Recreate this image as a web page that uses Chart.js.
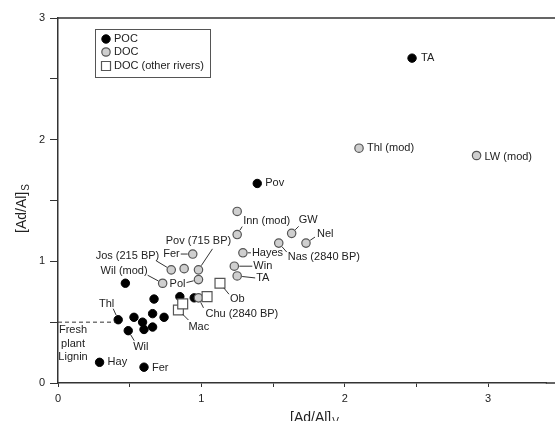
<!DOCTYPE html>
<html lang="en">
<head>
<meta charset="utf-8">
<title>Ad/Al</title>
<script src="https://cdn.jsdelivr.net/npm/chart.js"></script>
<style>
    html, body { margin: 0; padding: 0; background: #fff; }
</style>
</head>
<body>
<canvas id="myChart" width="555" height="421"></canvas>

<script>
    // POC (black dots)
    const pocX = [0.47, 0.42, 0.53, 0.59, 0.60, 0.49, 0.66, 0.67, 0.66, 0.74, 0.85, 0.95, 0.29, 0.60, 1.39, 2.47];
    const pocY = [0.82, 0.52, 0.54, 0.50, 0.44, 0.43, 0.57, 0.69, 0.46, 0.54, 0.71, 0.70, 0.17, 0.13, 1.64, 2.67];
    // DOC (grey circles)
    const docX = [2.10, 2.92, 0.79, 0.94, 0.88, 0.98, 0.98, 0.73, 0.98, 1.25, 1.25, 1.29, 1.23, 1.25, 1.63, 1.73, 1.54];
    const docY = [1.93, 1.87, 0.93, 1.06, 0.94, 0.93, 0.85, 0.82, 0.70, 1.41, 1.22, 1.07, 0.96, 0.88, 1.23, 1.15, 1.15];
    // DOC other rivers (squares)
    const rivX = [1.13, 1.04, 0.84, 0.87];
    const rivY = [0.82, 0.71, 0.60, 0.65];

    const xTicks = [0, 0.5, 1, 1.5, 2, 2.5, 3];
    const yTicks = [0, 0.5, 1, 1.5, 2, 2.5, 3];
    const seriesNames = ['POC', 'DOC', 'DOC (other rivers)'];
    const freshLevel = 0.5;

    // point labels: [dataset, index, text, dx, dy, align, leader dx, leader dy]
    const notes = [
        [0, 15, 'TA', 9, 0, 'left'],
        [0, 14, 'Pov', 8, 0, 'left'],
        [0, 1, 'Thl', -4, -16, 'right', -5, -11],
        [0, 5, 'Wil', 5, 16, 'left', 6, 10],
        [0, 12, 'Hay', 8, 0, 'left'],
        [0, 13, 'Fer', 8, 1, 'left'],
        [1, 0, 'Thl (mod)', 8, 0, 'left'],
        [1, 1, 'LW (mod)', 8, 1, 'left'],
        [1, 2, 'Jos (215 BP)', -12, -14, 'right', -15, -9],
        [1, 3, 'Fer', -13, 0, 'right', -12, 0],
        [1, 5, 'Pov (715 BP)', 0, -29, 'center', 14, -21],
        [1, 6, 'Pol', -13, 4, 'right', -12, 3],
        [1, 7, 'Wil (mod)', -15, -12, 'right', -15, -8],
        [1, 8, 'Chu (2840 BP)', 7, 16, 'left', 5, 10],
        [1, 10, 'Inn (mod)', 6, -14, 'left', 5, -8],
        [1, 11, 'Hayes', 9, 0, 'left', 8, 0],
        [1, 12, 'Win', 19, 0, 'left', 18, 0],
        [1, 13, 'TA', 19, 2, 'left', 18, 2],
        [1, 14, 'GW', 7, -13, 'left', 7, -7],
        [1, 15, 'Nel', 11, -9, 'left', 9, -6],
        [1, 16, 'Nas (2840 BP)', 9, 14, 'left', 8, 9],
        [2, 0, 'Ob', 10, 16, 'left', 9, 11],
        [2, 2, 'Mac', 10, 17, 'left', 10, 10]
    ];

    const FONT = "'Liberation Sans', Arial, sans-serif";
    Chart.defaults.font.family = FONT;
    Chart.defaults.color = '#222';

    function pts(xs, ys) {
        return xs.map((x, i) => ({ x: x, y: ys[i] }));
    }

    const data = {
        datasets: [
            {
                label: seriesNames[0],
                data: pts(pocX, pocY),
                pointStyle: 'circle',
                pointRadius: 4.2,
                backgroundColor: '#000',
                borderColor: '#000',
                borderWidth: 1,
                order: 3
            },
            {
                label: seriesNames[1],
                data: pts(docX, docY),
                pointStyle: 'circle',
                pointRadius: 4.2,
                backgroundColor: '#cfcfcf',
                borderColor: '#555',
                borderWidth: 1.2,
                order: 2
            },
            {
                label: seriesNames[2],
                data: pts(rivX, rivY),
                pointStyle: 'rect',
                pointRadius: 7,
                backgroundColor: '#fff',
                borderColor: '#555',
                borderWidth: 1.2,
                order: 1
            }
        ]
    };

    // labels, legend, titles, frame lines
    const extras = {
        id: 'extras',
        afterDatasetsDraw(chart) {
            const ctx = chart.ctx;
            const xs = chart.scales.x, ys = chart.scales.y;
            const area = chart.chartArea;
            ctx.save();

            // top frame line, bottom axis running to the edge
            ctx.strokeStyle = '#333';
            ctx.lineWidth = 1.5;
            ctx.beginPath();
            ctx.moveTo(area.left, area.top);
            ctx.lineTo(chart.width, area.top);
            ctx.moveTo(area.right - 1, area.bottom);
            ctx.lineTo(chart.width, area.bottom);
            ctx.stroke();

            // fresh plant lignin dashed line
            ctx.lineWidth = 1;
            ctx.setLineDash([4, 3]);
            ctx.beginPath();
            ctx.moveTo(area.left, ys.getPixelForValue(freshLevel));
            ctx.lineTo(xs.getPixelForValue(0.40), ys.getPixelForValue(freshLevel));
            ctx.stroke();
            ctx.setLineDash([]);

            ctx.font = '11px ' + FONT;
            ctx.fillStyle = '#222';
            ctx.textBaseline = 'middle';
            ctx.textAlign = 'center';
            const fx = xs.getPixelForValue(0.105);
            const fy = ys.getPixelForValue(freshLevel);
            ctx.fillText('Fresh', fx, fy + 8);
            ctx.fillText('plant', fx, fy + 22);
            ctx.fillText('Lignin', fx, fy + 35);

            // point labels with leader lines
            notes.forEach(n => {
                const p = chart.getDatasetMeta(n[0]).data[n[1]];
                if (!p) return;
                if (n.length > 6) {
                    const len = Math.hypot(n[6], n[7]);
                    const r = n[0] === 2 ? 6 : 5;
                    if (len > r) {
                        ctx.strokeStyle = '#333';
                        ctx.lineWidth = 1;
                        ctx.beginPath();
                        ctx.moveTo(p.x + n[6] / len * r, p.y + n[7] / len * r);
                        ctx.lineTo(p.x + n[6], p.y + n[7]);
                        ctx.stroke();
                    }
                }
                ctx.textAlign = n[5];
                ctx.fillText(n[2], p.x + n[3], p.y + n[4]);
            });

            // legend
            ctx.fillStyle = '#fff';
            ctx.fillRect(95.5, 29.5, 115, 48);
            ctx.strokeStyle = '#555';
            ctx.lineWidth = 1;
            ctx.strokeRect(95.5, 29.5, 115, 48);
            const ly = [39, 52, 66];
            chart.data.datasets.forEach((ds, i) => {
                ctx.fillStyle = ds.backgroundColor;
                ctx.strokeStyle = ds.borderColor;
                ctx.lineWidth = ds.borderWidth;
                ctx.beginPath();
                if (ds.pointStyle === 'rect') {
                    ctx.rect(101.5, ly[i] - 4.5, 9, 9);
                } else {
                    ctx.arc(106, ly[i], 4.2, 0, Math.PI * 2);
                }
                ctx.fill();
                ctx.stroke();
                ctx.fillStyle = '#222';
                ctx.textAlign = 'left';
                ctx.fillText(ds.label, 114, ly[i]);
            });

            // axis titles with subscripts
            ctx.fillStyle = '#222';
            ctx.textAlign = 'left';
            ctx.textBaseline = 'alphabetic';
            ctx.font = '14px ' + FONT;
            const main = '[Ad/Al]';
            const w = ctx.measureText(main).width;
            ctx.fillText(main, 290, 422);
            ctx.font = '10px ' + FONT;
            ctx.fillText('V', 290 + w + 1, 425);

            ctx.translate(26, 233);
            ctx.rotate(-Math.PI / 2);
            ctx.font = '14px ' + FONT;
            ctx.fillText(main, 0, 0);
            ctx.font = '10px ' + FONT;
            ctx.fillText('S', w + 1, 3);

            ctx.restore();
        }
    };

    const config = {
        type: 'scatter',
        data: data,
        plugins: [extras],
        options: {
            responsive: false,
            animation: false,
            layout: { padding: { top: 18, right: 0, left: 0, bottom: 0 } },
            plugins: {
                legend: { display: false },
                tooltip: { enabled: false }
            },
            scales: {
                x: {
                    type: 'linear',
                    min: 0,
                    max: 3.41,
                    afterBuildTicks: axis => { axis.ticks = xTicks.map(v => ({ value: v })); },
                    afterFit: s => { s.height = 38; },
                    ticks: {
                        callback: v => Number.isInteger(v) ? v : '',
                        font: { size: 11 },
                        color: '#222',
                        padding: 5,
                        maxRotation: 0
                    },
                    grid: { drawOnChartArea: false, tickLength: 4, color: '#333', lineWidth: 1 },
                    border: { color: '#333', width: 1.5 }
                },
                y: {
                    type: 'linear',
                    min: 0,
                    max: 3,
                    afterBuildTicks: axis => { axis.ticks = yTicks.map(v => ({ value: v })); },
                    afterFit: s => { s.width = 58; },
                    ticks: {
                        callback: v => Number.isInteger(v) ? v : '',
                        font: { size: 11 },
                        color: '#222',
                        padding: 5
                    },
                    grid: { drawOnChartArea: false, tickLength: 8, color: '#333', lineWidth: 1 },
                    border: { color: '#333', width: 1.5 }
                }
            }
        }
    };

    const myChart = new Chart(document.getElementById('myChart'), config);
</script>
</body>
</html>
